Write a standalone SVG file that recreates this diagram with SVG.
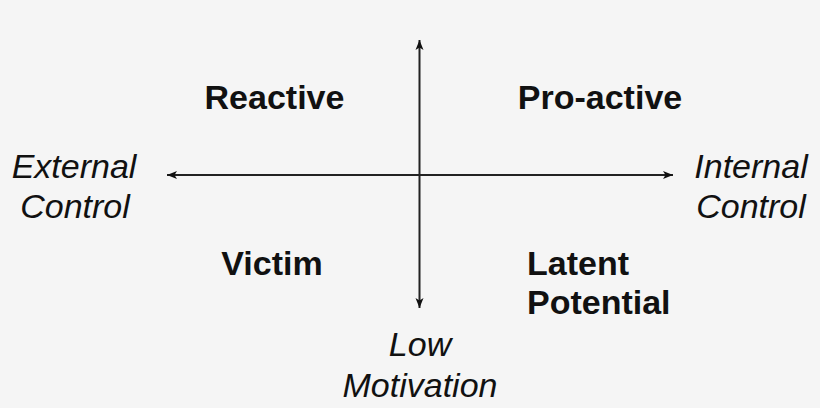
<svg xmlns="http://www.w3.org/2000/svg" width="820" height="408" viewBox="0 0 820 408">
<style>
.it{font-family:"Liberation Sans",Arial,sans-serif;font-style:italic;font-size:34px;fill:#111;}
.bd{font-family:"Liberation Sans",Arial,sans-serif;font-weight:bold;font-size:34px;fill:#111;}
.ax{stroke:#222;stroke-width:2;fill:none;}
</style>
<defs>
<marker id="ah" markerUnits="userSpaceOnUse" markerWidth="12" markerHeight="10" refX="10" refY="4" orient="auto-start-reverse" viewBox="0 0 12 8">
<path d="M0,0 L10,4 L0,8 L2.5,4 Z" fill="#111"/>
</marker>
</defs>
<rect width="820" height="408" fill="#f5f5f5"/>
<g id="connectors">
<line class="ax" x1="167" y1="175" x2="673" y2="175" marker-start="url(#ah)" marker-end="url(#ah)"/>
<line class="ax" x1="419.5" y1="40" x2="419.5" y2="308" marker-start="url(#ah)" marker-end="url(#ah)"/>
</g>
<g id="reactive"><text class="bd" x="274.5" y="109" text-anchor="middle">Reactive</text></g>
<g id="proactive"><text class="bd" x="600" y="109" text-anchor="middle">Pro-active</text></g>
<g id="victim"><text class="bd" x="272" y="275" text-anchor="middle">Victim</text></g>
<g id="latent"><text class="bd" x="527" y="275">Latent</text><text class="bd" x="527" y="314">Potential</text></g>
<g id="external"><text class="it" x="74" y="178" text-anchor="middle">External</text><text class="it" x="75" y="218" text-anchor="middle">Control</text></g>
<g id="internal"><text class="it" x="751" y="178" text-anchor="middle">Internal</text><text class="it" x="751" y="218" text-anchor="middle">Control</text></g>
<g id="low"><text class="it" x="420" y="356" text-anchor="middle">Low</text><text class="it" x="420" y="397" text-anchor="middle">Motivation</text></g>
</svg>
